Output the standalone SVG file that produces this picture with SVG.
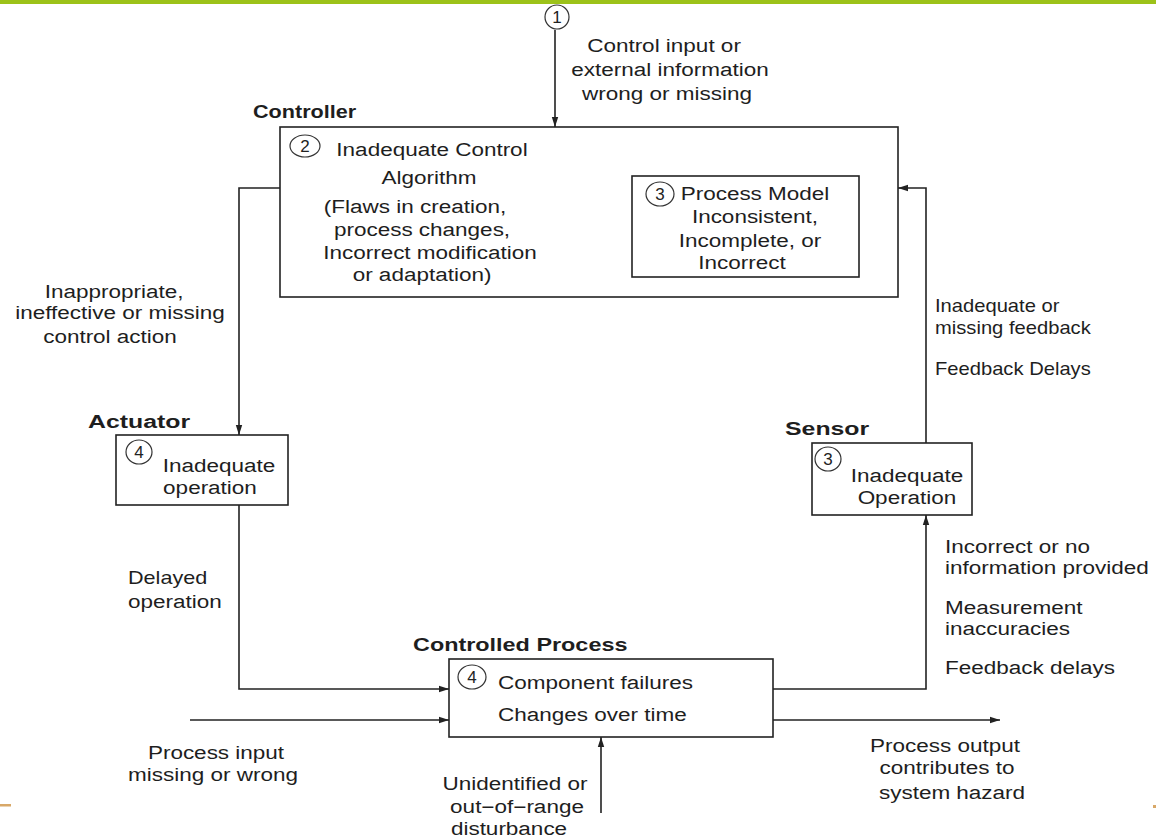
<svg xmlns="http://www.w3.org/2000/svg" width="1156" height="838" viewBox="0 0 1156 838">
<style>
  .t { font-family: "Liberation Sans", Arial, sans-serif; font-size: 18px; fill: #1e1e1e; }
  .m { text-anchor: middle; }
  .b { font-family: "Liberation Sans", Arial, sans-serif; font-size: 18px; font-weight: bold; fill: #1e1e1e; }
  .box { fill: none; stroke: #222; stroke-width: 1.6; }
  .num { fill: none; stroke: #333; stroke-width: 1.2; }
  .n { font-family: "Liberation Sans", Arial, sans-serif; font-size: 17px; fill: #222; text-anchor: middle; }
  .c { fill: none; stroke: #222; stroke-width: 1.6; }
</style>
<defs>
  <marker id="ah" viewBox="0 0 10 8" refX="10" refY="4" markerWidth="10" markerHeight="8" markerUnits="userSpaceOnUse" orient="auto">
    <path d="M0,0.8 L10,4 L0,7.2 Z" fill="#222"/>
  </marker>
</defs>
<rect x="0" y="0" width="1156" height="838" fill="#ffffff"/>
<rect x="0" y="0" width="1156" height="4" fill="#9cc219"/>
<rect x="0" y="804" width="11" height="2.5" fill="#d8a868"/>
<rect x="1153" y="805" width="3" height="3" fill="#d8a868"/>

<g id="connectors">
  <line class="c" x1="555" y1="30" x2="555" y2="127" marker-end="url(#ah)"/>
  <polyline class="c" points="280,188 239,188 239,435" marker-end="url(#ah)"/>
  <polyline class="c" points="239,505 239,689 449,689" marker-end="url(#ah)"/>
  <line class="c" x1="190" y1="720" x2="449" y2="720" marker-end="url(#ah)"/>
  <line class="c" x1="601" y1="813" x2="601" y2="737" marker-end="url(#ah)"/>
  <line class="c" x1="773" y1="720" x2="1000" y2="720" marker-end="url(#ah)"/>
  <polyline class="c" points="773,689 926,689 926,515" marker-end="url(#ah)"/>
  <polyline class="c" points="926,443 926,188 898,188" marker-end="url(#ah)"/>
</g>

<g id="input-label">
  <ellipse class="num" cx="557" cy="17" rx="12" ry="12"/>
  <text class="n" x="557" y="23">1</text>
  <text class="t m" transform="translate(664,52) scale(1.25,1)">Control input or</text>
  <text class="t m" transform="translate(670,76) scale(1.25,1)">external information</text>
  <text class="t m" transform="translate(667,100) scale(1.25,1)">wrong or missing</text>
</g>

<g id="controller">
  <text class="b" transform="translate(253,118) scale(1.2,1)">Controller</text>
  <rect class="box" x="280" y="127" width="618" height="170"/>
  <ellipse class="num" cx="305" cy="146" rx="15" ry="11"/>
  <text class="n" x="305" y="152">2</text>
  <text class="t m" transform="translate(432,156) scale(1.25,1)">Inadequate Control</text>
  <text class="t m" transform="translate(429,184) scale(1.25,1)">Algorithm</text>
  <text class="t m" transform="translate(415,213) scale(1.25,1)">(Flaws in creation,</text>
  <text class="t m" transform="translate(422,236) scale(1.25,1)">process changes,</text>
  <text class="t m" transform="translate(430,259) scale(1.25,1)">Incorrect modification</text>
  <text class="t m" transform="translate(422,281) scale(1.25,1)">or adaptation)</text>
</g>

<g id="process-model">
  <rect class="box" x="632" y="176" width="227" height="101"/>
  <ellipse class="num" cx="660" cy="194" rx="14" ry="12"/>
  <text class="n" x="660" y="200">3</text>
  <text class="t m" transform="translate(755,200) scale(1.25,1)">Process Model</text>
  <text class="t m" transform="translate(755,223) scale(1.25,1)">Inconsistent,</text>
  <text class="t m" transform="translate(750,247) scale(1.25,1)">Incomplete, or</text>
  <text class="t m" transform="translate(742,269) scale(1.25,1)">Incorrect</text>
</g>

<g id="control-action-label">
  <text class="t m" transform="translate(114,298) scale(1.25,1)">Inappropriate,</text>
  <text class="t m" transform="translate(120,319) scale(1.25,1)">ineffective or missing</text>
  <text class="t m" transform="translate(110,343) scale(1.25,1)">control action</text>
</g>

<g id="actuator">
  <text class="b" transform="translate(88,428) scale(1.38,1)">Actuator</text>
  <rect class="box" x="116" y="435" width="172" height="70"/>
  <ellipse class="num" cx="139" cy="452" rx="13" ry="12"/>
  <text class="n" x="139" y="458">4</text>
  <text class="t m" transform="translate(219,472) scale(1.25,1)">Inadequate</text>
  <text class="t m" transform="translate(210,494) scale(1.25,1)">operation</text>
</g>

<g id="delayed-label">
  <text class="t" transform="translate(128,584) scale(1.2,1)">Delayed</text>
  <text class="t" transform="translate(128,608) scale(1.25,1)">operation</text>
</g>

<g id="feedback-label">
  <text class="t" transform="translate(935,312) scale(1.12,1)">Inadequate or</text>
  <text class="t" transform="translate(935,334) scale(1.12,1)">missing feedback</text>
  <text class="t" transform="translate(935,375) scale(1.12,1)">Feedback Delays</text>
</g>

<g id="sensor">
  <text class="b" transform="translate(785,435) scale(1.38,1)">Sensor</text>
  <rect class="box" x="812" y="443" width="160" height="72"/>
  <ellipse class="num" cx="828" cy="459" rx="13" ry="12"/>
  <text class="n" x="828" y="465">3</text>
  <text class="t m" transform="translate(907,482) scale(1.25,1)">Inadequate</text>
  <text class="t m" transform="translate(907,504) scale(1.25,1)">Operation</text>
</g>

<g id="sensor-label">
  <text class="t" transform="translate(945,553) scale(1.25,1)">Incorrect or no</text>
  <text class="t" transform="translate(945,574) scale(1.25,1)">information provided</text>
  <text class="t" transform="translate(945,614) scale(1.25,1)">Measurement</text>
  <text class="t" transform="translate(945,635) scale(1.25,1)">inaccuracies</text>
  <text class="t" transform="translate(945,674) scale(1.25,1)">Feedback delays</text>
</g>

<g id="controlled-process">
  <text class="b" transform="translate(413,651) scale(1.3,1)">Controlled Process</text>
  <rect class="box" x="449" y="659" width="324" height="78"/>
  <ellipse class="num" cx="472" cy="677" rx="14" ry="12"/>
  <text class="n" x="472" y="683">4</text>
  <text class="t" transform="translate(498,689) scale(1.25,1)">Component failures</text>
  <text class="t" transform="translate(498,721) scale(1.25,1)">Changes over time</text>
</g>

<g id="process-input-label">
  <text class="t m" transform="translate(216,759) scale(1.25,1)">Process input</text>
  <text class="t m" transform="translate(213,781) scale(1.25,1)">missing or wrong</text>
</g>

<g id="disturbance-label">
  <text class="t m" transform="translate(515,790) scale(1.25,1)">Unidentified or</text>
  <text class="t m" transform="translate(517,813) scale(1.25,1)">out−of−range</text>
  <text class="t m" transform="translate(509,835) scale(1.25,1)">disturbance</text>
</g>

<g id="process-output-label">
  <text class="t m" transform="translate(945,752) scale(1.25,1)">Process output</text>
  <text class="t m" transform="translate(947,774) scale(1.25,1)">contributes to</text>
  <text class="t m" transform="translate(952,799) scale(1.25,1)">system hazard</text>
</g>
</svg>
